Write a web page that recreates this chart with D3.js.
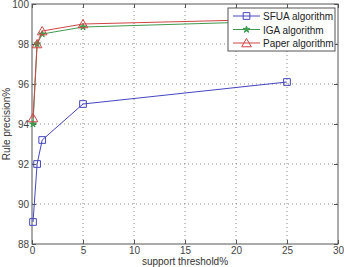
<!DOCTYPE html>
<html>
<head>
<meta charset="utf-8">
<script src="https://cdn.jsdelivr.net/npm/d3@7"></script>
<style>
  body { margin: 0; background: #fff; }
  svg text { font-family: "Liberation Sans", Arial, sans-serif; }
</style>
</head>
<body>
<div id="viz"></div>
<script>
// values
var thresholds = [0.1, 0.5, 1, 5, 25];
var sfuaValues = [89.1, 92.0, 93.2, 95.0, 96.1];
var igaValues = [94.0, 98.0, 98.5, 98.85, 99.15];
var paperValues = [94.3, 98.0, 98.65, 99.0, 99.25];
var seriesNames = ["SFUA algorithm", "IGA algorithm", "Paper algorithm"];
var xTicks = [0, 5, 10, 15, 20, 25, 30];
var yTicks = [88, 90, 92, 94, 96, 98, 100];

var width = 344, height = 267,
    margin = {top: 4, right: 6, bottom: 23, left: 32};

var svg = d3.select("#viz").append("svg")
    .attr("width", width)
    .attr("height", height);

var xScale = d3.scaleLinear().domain([0, 30]).range([margin.left, width - margin.right]);
var yScale = d3.scaleLinear().domain([88, 100]).range([height - margin.bottom, margin.top]);

var axisColor = "#555";

// dotted grid
svg.append("g").selectAll("line").data(xTicks.slice(1, -1)).enter().append("line")
    .attr("x1", function(d) { return xScale(d); })
    .attr("x2", function(d) { return xScale(d); })
    .attr("y1", yScale(88)).attr("y2", yScale(100))
    .attr("stroke", "#888").attr("stroke-width", 1).attr("stroke-dasharray", "1,3");
svg.append("g").selectAll("line").data(yTicks.slice(1, -1)).enter().append("line")
    .attr("y1", function(d) { return yScale(d); })
    .attr("y2", function(d) { return yScale(d); })
    .attr("x1", xScale(0)).attr("x2", xScale(30))
    .attr("stroke", "#888").attr("stroke-width", 1).attr("stroke-dasharray", "1,3");

// axes with inward ticks
var xAxis = d3.axisBottom(xScale).tickValues(xTicks).tickSize(-4).tickPadding(3);
var yAxis = d3.axisLeft(yScale).tickValues(yTicks).tickSize(-4).tickPadding(3);

function styleAxis(g) {
  g.select(".domain").remove();
  g.selectAll("line").attr("stroke", axisColor);
  g.selectAll("text").attr("fill", "#444").style("font-size", "10px");
}

svg.append("g").attr("transform", "translate(0," + yScale(88) + ")").call(xAxis).call(styleAxis);
svg.append("g").attr("transform", "translate(" + xScale(0) + ",0)").call(yAxis).call(styleAxis);
// mirrored ticks on top and right
svg.append("g").attr("transform", "translate(0," + yScale(100) + ")")
    .call(d3.axisTop(xScale).tickValues(xTicks).tickSize(-4).tickFormat(""))
    .call(styleAxis);
svg.append("g").attr("transform", "translate(" + xScale(30) + ",0)")
    .call(d3.axisRight(yScale).tickValues(yTicks).tickSize(-4).tickFormat(""))
    .call(styleAxis);

// box
svg.append("rect")
    .attr("x", xScale(0)).attr("y", yScale(100))
    .attr("width", xScale(30) - xScale(0)).attr("height", yScale(88) - yScale(100))
    .attr("fill", "none").attr("stroke", axisColor).attr("stroke-width", 1);

var colors = ["#4646c0", "#3f9a4f", "#d04545"];
var allValues = [sfuaValues, igaValues, paperValues];

var line = d3.line()
    .x(function(d) { return xScale(d[0]); })
    .y(function(d) { return yScale(d[1]); });

var symbols = [d3.symbolSquare, d3.symbolStar, d3.symbolTriangle];
var symbolSizes = [45, 14, 40];

function drawMarker(g, i, x, y) {
  g.append("path")
    .attr("d", d3.symbol().type(symbols[i]).size(symbolSizes[i])())
    .attr("transform", "translate(" + x + "," + (i === 2 ? y + 1 : y) + ")")
    .attr("fill", i === 1 ? colors[i] : "none")
    .attr("stroke", colors[i]).attr("stroke-width", 1);
}

allValues.forEach(function(vals, i) {
  var pts = thresholds.map(function(t, j) { return [t, vals[j]]; });
  svg.append("path").datum(pts)
      .attr("d", line)
      .attr("fill", "none")
      .attr("stroke", colors[i]).attr("stroke-width", 1);
  var g = svg.append("g");
  pts.forEach(function(p) { drawMarker(g, i, xScale(p[0]), yScale(p[1])); });
});

// legend
var lg = svg.append("g");
lg.append("rect")
    .attr("x", 228).attr("y", 8).attr("width", 107).attr("height", 43)
    .attr("fill", "#fff").attr("stroke", axisColor).attr("stroke-width", 1);
seriesNames.forEach(function(name, i) {
  var y = 16 + i * 13.5;
  lg.append("line").attr("x1", 233).attr("x2", 260).attr("y1", y).attr("y2", y)
      .attr("stroke", colors[i]).attr("stroke-width", 1);
  drawMarker(lg, i, 246.5, y);
  lg.append("text").attr("x", 263).attr("y", y + 4)
      .style("font-size", "10px").attr("fill", "#222").text(name);
});

// axis labels
svg.append("text")
    .attr("x", xScale(15)).attr("y", 265)
    .attr("text-anchor", "middle").style("font-size", "10px").attr("fill", "#333")
    .text("support threshold%");
svg.append("text")
    .attr("transform", "translate(10," + yScale(94) + ") rotate(-90)")
    .attr("text-anchor", "middle").style("font-size", "10px").attr("fill", "#333")
    .text("Rule precision%");
</script>
</body>
</html>
